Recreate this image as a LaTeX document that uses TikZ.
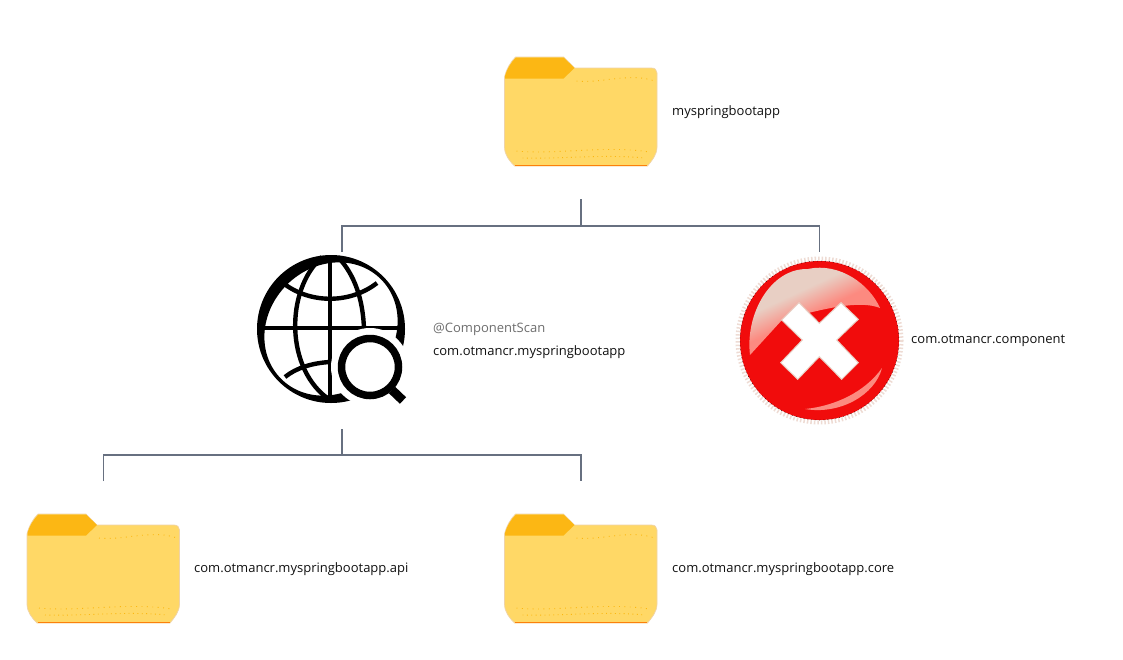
\documentclass[tikz,border=0pt]{standalone}
\usepackage{fontspec}
\setmainfont{Open Sans}
\definecolor{folderbody}{HTML}{FFD866}
\definecolor{foldertab}{HTML}{FCB714}
\definecolor{folderedge}{HTML}{EFD3A8}
\definecolor{folderdot}{HTML}{FBB710}
\definecolor{wire}{HTML}{677080}
\definecolor{redball}{HTML}{F10C0C}
\definecolor{halo}{HTML}{E8CFC4}
\definecolor{pinkhi}{HTML}{FC8A80}
\definecolor{lbl}{HTML}{111111}
\definecolor{annot}{HTML}{6E6E6E}
\pgfdeclareverticalshading{ballshine}{100bp}{color(0bp)=(redball);color(26bp)=(redball!70!pinkhi);color(38bp)=(pinkhi);color(48bp)=(pinkhi);color(60bp)=(halo);color(100bp)=(halo)}
\tikzset{
  x=1pt,y=-1pt,
  wireline/.style={draw=wire,line width=1.8pt},
  lab/.style={anchor=west,inner sep=0pt,text=lbl,font=\fontsize{13pt}{15pt}\selectfont},
  foldmark/.style={draw=folderdot,line width=0.9pt,dash pattern=on 0.9pt off 4.5pt},
  pics/folder/.style={code={
    \path[fill=folderbody,draw=folderedge,line width=0.7pt]
      (0,20) .. controls (2,12) and (6,5) .. (11,0) -- (59,0) -- (70,11) -- (147,11)
      .. controls (150.5,11) and (152.5,13) .. (152.5,16)
      -- (152.5,90) .. controls (152.5,98) and (147,104) .. (143,109) -- (10,109)
      .. controls (5,104) and (0,98) .. (0,90) -- cycle;
    \path[fill=foldertab] (0.5,21.5) -- (0.5,19) .. controls (2.5,12) and (6.5,5.5) .. (11.5,0.5) -- (59,0.5) -- (70,11) -- (59,21.5) -- cycle;
    \draw[foldmark] (72,24) .. controls (95,27) and (125,15) .. (150,24);
    \draw[foldmark] (12,94) .. controls (50,98) and (100,88) .. (145,95);
    \draw[foldmark,dash pattern=on 0.9pt off 3.5pt] (18,101) .. controls (60,102) and (100,97) .. (140,101);
    \draw[draw=folderdot!70!red,line width=1.1pt] (10.5,108.5) -- (142.5,108.5);
    \node[inner sep=0pt,minimum width=152.5pt,minimum height=109pt,anchor=north west] (-box) at (0,0) {};
  }}
}
\begin{document}
\begin{tikzpicture}
\useasboundingbox (0,0) rectangle (1123,659);
\fill[white] (0,0) rectangle (1123,659);

% folders
\pic (top) at (504.5,57) {folder};
\pic (api) at (27,514) {folder};
\pic (core) at (504.5,514) {folder};

% globe with magnifier
\node[inner sep=0pt,minimum width=148pt,minimum height=148pt] (globe) at (331,329) {};
\fill[black,even odd rule] (331,329) circle[radius=74]
  (331,329) ellipse[x radius=70.5,y radius=62.5,rotate=45];
\draw[black,line width=4.6pt] (260,328) -- (402,328);
\draw[black,line width=4.8pt] (330,256) -- (330,402);
\draw[black,line width=4.4pt] (283,283) .. controls (310,304) and (350,304) .. (377,283);
\draw[black,line width=4.4pt] (285,377) .. controls (296,368) and (312,363) .. (330,362);
\draw[black,line width=4.4pt] (322,257) .. controls (285,290) and (285,370) .. (330,400);
\draw[black,line width=4.4pt] (338,257) .. controls (355,275) and (363,300) .. (364,329);
\fill[white] (370,367) circle[radius=39];
\draw[black,line width=7.5pt] (370,367) circle[radius=28.5];
\draw[black,line width=9pt] (392,390) -- (403,400.5);

% red ball
\node[inner sep=0pt,minimum width=159pt,minimum height=159pt] (ball) at (819.5,340.5) {};
\draw[halo!75!white,line width=4pt,dash pattern=on 1.5pt off 2pt] (819.5,340.5) circle[radius=82];
\fill[redball] (819.5,340.5) circle[radius=79.5];
\draw[black!70!redball,line width=0.5pt,dash pattern=on 1pt off 3pt] (819.5,340.5) circle[radius=79.5];
\shade[shading=ballshine,shading angle=25]
  (750,355) .. controls (745,315) and (770,268) .. (808,269)
  .. controls (840,262) and (870,285) .. (880,308)
  .. controls (860,300) and (825,308) .. (782,320) -- cycle;
\fill[pinkhi] (805,409) .. controls (835,406) and (865,392) .. (882,368)
  .. controls (875,395) and (840,415) .. (805,409) -- cycle;
\fill[white,draw=halo,line width=1pt]
  (781.7,320) -- (799,302.7) -- (819.3,323.3) -- (841,302.7) -- (858.3,319.3)
  -- (836.7,340) -- (858.3,362.7) -- (841.7,379.3) -- (819.3,356.7) -- (797.7,379.3) -- (780.7,362.7) -- (802.3,340) -- cycle;

% labels
\node[lab] (ltop) at (672,112.3) {myspringbootapp};
\node[lab,text=annot] (lscan) at (433,329.3) {@ComponentScan};
\node[lab] (lmain) at (433,352.3) {com.otmancr.myspringbootapp};
\node[lab] (lcomp) at (911,340.3) {com.otmancr.component};
\node[lab] (lapi) at (194,569.3) {com.otmancr.myspringbootapp.api};
\node[lab] (lcore) at (672,569.3) {com.otmancr.myspringbootapp.core};

% connectors
\coordinate (a0) at (top-box.south |- 0,199);
\coordinate (a1) at (top-box.south |- 0,226);
\coordinate (a2e) at (342,226);
\coordinate (a2d) at (342,252);
\coordinate (a3d) at (ball.north |- 0,252);
\coordinate (a3e) at (ball.north |- 0,226);
\draw[wireline] (a0) -- (a1);
\draw[wireline] (a2d) -- (a2e) -- (a3e) -- (a3d);
\coordinate (b0) at (342,429);
\coordinate (b1) at (342,455);
\coordinate (b2) at (api-box.south |- 0,455);
\coordinate (b2d) at (api-box.south |- 0,481);
\coordinate (b3) at (core-box.south |- 0,455);
\coordinate (b3d) at (core-box.south |- 0,481);
\draw[wireline] (b0) -- (b1);
\draw[wireline] (b2d) -- (b2) -- (b3) -- (b3d);
\end{tikzpicture}
\end{document}
